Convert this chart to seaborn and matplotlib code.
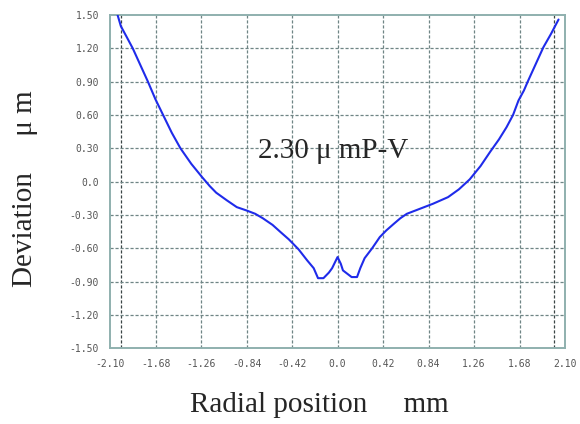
import numpy as np
import matplotlib
matplotlib.use("Agg")
import matplotlib.pyplot as plt
import seaborn as sns
import pandas as pd

# radial position (mm) and deviation (um)
radial_mm = [-2.03, -2.00, -1.95, -1.89, -1.82, -1.75, -1.68, -1.61, -1.53, -1.45,
             -1.35, -1.25, -1.18, -1.12, -1.02, -0.93, -0.84, -0.76, -0.69, -0.60,
             -0.52, -0.45, -0.36, -0.28, -0.22, -0.18, -0.13, -0.08, -0.05, 0.00,
             0.03, 0.05, 0.09, 0.13, 0.18, 0.21, 0.25, 0.32, 0.39, 0.45, 0.52,
             0.58, 0.64, 0.72, 0.80, 0.88, 0.95, 1.02, 1.12, 1.22, 1.32, 1.41,
             1.49, 1.56, 1.62, 1.67, 1.72, 1.76, 1.83, 1.90, 1.97, 2.04]
deviation_um = [1.50, 1.40, 1.31, 1.20, 1.05, 0.90, 0.74, 0.60, 0.44, 0.30,
                0.16, 0.04, -0.04, -0.10, -0.17, -0.23, -0.26, -0.29, -0.33, -0.39,
                -0.46, -0.52, -0.61, -0.71, -0.78, -0.87, -0.87, -0.82, -0.78, -0.68,
                -0.74, -0.80, -0.83, -0.86, -0.86, -0.78, -0.69, -0.60, -0.50, -0.44, -0.38,
                -0.33, -0.29, -0.26, -0.23, -0.20, -0.17, -0.14, -0.07, 0.02, 0.14, 0.27,
                0.38, 0.49, 0.60, 0.73, 0.82, 0.91, 1.06, 1.21, 1.33, 1.46]

x_ticks = [-2.10, -1.68, -1.26, -0.84, -0.42, 0.0, 0.42, 0.84, 1.26, 1.68, 2.10]
x_tick_labels = ["-2.10", "-1.68", "-1.26", "-0.84", "-0.42", "0.0", "0.42", "0.84", "1.26", "1.68", "2.10"]
y_ticks = [-1.50, -1.20, -0.90, -0.60, -0.30, 0.0, 0.30, 0.60, 0.90, 1.20, 1.50]
y_tick_labels = ["-1.50", "-1.20", "-0.90", "-0.60", "-0.30", "0.0", "0.30", "0.60", "0.90", "1.20", "1.50"]
edge_lines = [-2.0, 2.0]

df = pd.DataFrame({"r": radial_mm, "dev": deviation_um})

sns.set_style("white")
fig = plt.figure(figsize=(5.8, 4.24), dpi=100)
ax = fig.add_axes([0.1897, 0.179, 0.7845, 0.7854])

grid_kw = dict(color="#6f8585", lw=0.9, ls=(0, (2.5, 1.5)), zorder=1)
for v in x_ticks[1:-1]:
    ax.axvline(v, **grid_kw)
for v in edge_lines:
    ax.axvline(v, color="#3a4545", lw=0.9, ls=(0, (2.5, 1.5)), zorder=1)
for v in y_ticks[1:-1]:
    ax.axhline(v, **grid_kw)

sns.lineplot(data=df, x="r", y="dev", ax=ax, color="#1f2bea", lw=1.5, zorder=3)

ax.set_xlim(-2.1, 2.1)
ax.set_ylim(-1.5, 1.5)
ax.set_xticks(x_ticks)
ax.set_xticklabels(x_tick_labels)
ax.set_yticks(y_ticks)
ax.set_yticklabels(y_tick_labels)
ax.tick_params(length=0, labelsize=7, labelcolor="#555555", pad=8)
for lab in ax.get_xticklabels() + ax.get_yticklabels():
    lab.set_family("DejaVu Sans Mono")
for s in ax.spines.values():
    s.set_color("#8fb0ae")
    s.set_linewidth(1.4)

ax.set_xlabel("")
ax.set_ylabel("")
serif = ["Liberation Serif", "DejaVu Serif"]
fig.text(0.55, 0.045, "Radial position     mm", family=serif, fontsize=21, ha="center", va="center")
fig.text(0.043, 0.554, "Deviation     μ m", family=serif, fontsize=21, ha="center", va="center", rotation=90)
ax.text(-0.04, 0.28, "2.30 μ mP-V", family=serif, fontsize=21, ha="center", va="center")

fig.savefig("out.png", dpi=100, facecolor="white")
